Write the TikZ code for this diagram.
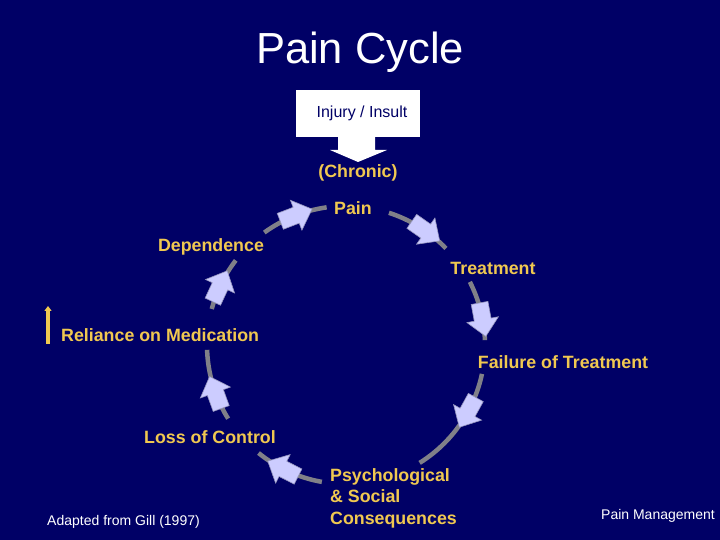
\documentclass[tikz,border=0pt]{standalone}
\usepackage{fontspec}
\setmainfont{Liberation Sans}
\usetikzlibrary{calc,arrows.meta}
\definecolor{bgnavy}{RGB}{0,0,102}
\definecolor{gold}{RGB}{240,200,80}
\definecolor{arrowfill}{RGB}{204,204,255}
\definecolor{arrowedge}{RGB}{150,150,190}
\definecolor{arcgray}{RGB}{128,128,136}
\tikzset{
  lbl/.style={text=gold, font=\fontsize{17.8}{21.5}\selectfont\bfseries, inner sep=0pt},
  note/.style={text=white, font=\fontsize{14}{16}\selectfont, inner sep=0pt},
  arcline/.style={draw=arcgray, line width=4.5pt},
  barrow/.pic={\draw[fill=arrowfill, draw=arrowedge, line width=0.6pt]
     (-17,-8.5) -- (0,-8.5) -- (0,-16) -- (17,0) -- (0,16) -- (0,8.5) -- (-17,8.5) -- cycle;}
}
\begin{document}
\begin{tikzpicture}[x=1pt,y=1pt]
\fill[bgnavy] (0,0) rectangle (720,540);
\useasboundingbox (0,0) rectangle (720,540);

\node[text=white, font=\fontsize{43.5}{50}\selectfont, inner sep=0pt] (title) at (360,488) {Pain Cycle};

% Injury box with arrow
\node[fill=white, minimum width=124pt, minimum height=47pt, inner sep=0pt,
      font=\fontsize{16}{19}\selectfont, text=bgnavy] (inj) at (358,426.5) {\hspace*{8pt}Injury / Insult};
\fill[white] (338,403.5) -- (338,390) -- (330,390) -- (358,378) -- (387,390) -- (375,390) -- (375,403.5) -- cycle;

% labels
\node[lbl] (chronic) at (358,367) {(Chronic)};
\node[lbl] (pain) at (353,332) {Pain};
\node[lbl] (dep) at (211,293) {Dependence};
\node[lbl] (treat) at (493,272) {Treatment};
\node[lbl, anchor=west] (rel) at (61,205) {Reliance on Medication};
\node[lbl] (fail) at (563,178) {Failure of Treatment};
\node[lbl] (loss) at (210,103) {Loss of Control};
\node[lbl, anchor=west, align=left] (psy) at (330,42) {Psychological\\\& Social\\Consequences};

\coordinate (upA) at (48,196);
\coordinate (upB) at (48,234);
\draw[gold, line width=3.5pt, -{Triangle[width=7pt,length=5pt]}] (upA) -- (upB);

\node[note] (adapt) at (123.5,18) {Adapted from Gill (1997)};
\node[note] (pm) at (658,24) {Pain Management};

% cycle
\coordinate (c) at (346,195);
\def\R{139}
\foreach \a/\b/\m in {126/98/111, 72/44/55, 27/2/10.5, -12/-58/-29, -100/-129/-117, -148/-178/-160, 165/142.5/155}{
  \draw[arcline] ($(c)+(\a:\R)$) arc[start angle=\a, end angle=\b, radius=\R];
  \pgfmathsetmacro{\rot}{\m-90}
  \pic[rotate=\rot] at ($(c)+(\m:\R)$) {barrow};
}
\end{tikzpicture}
\end{document}
